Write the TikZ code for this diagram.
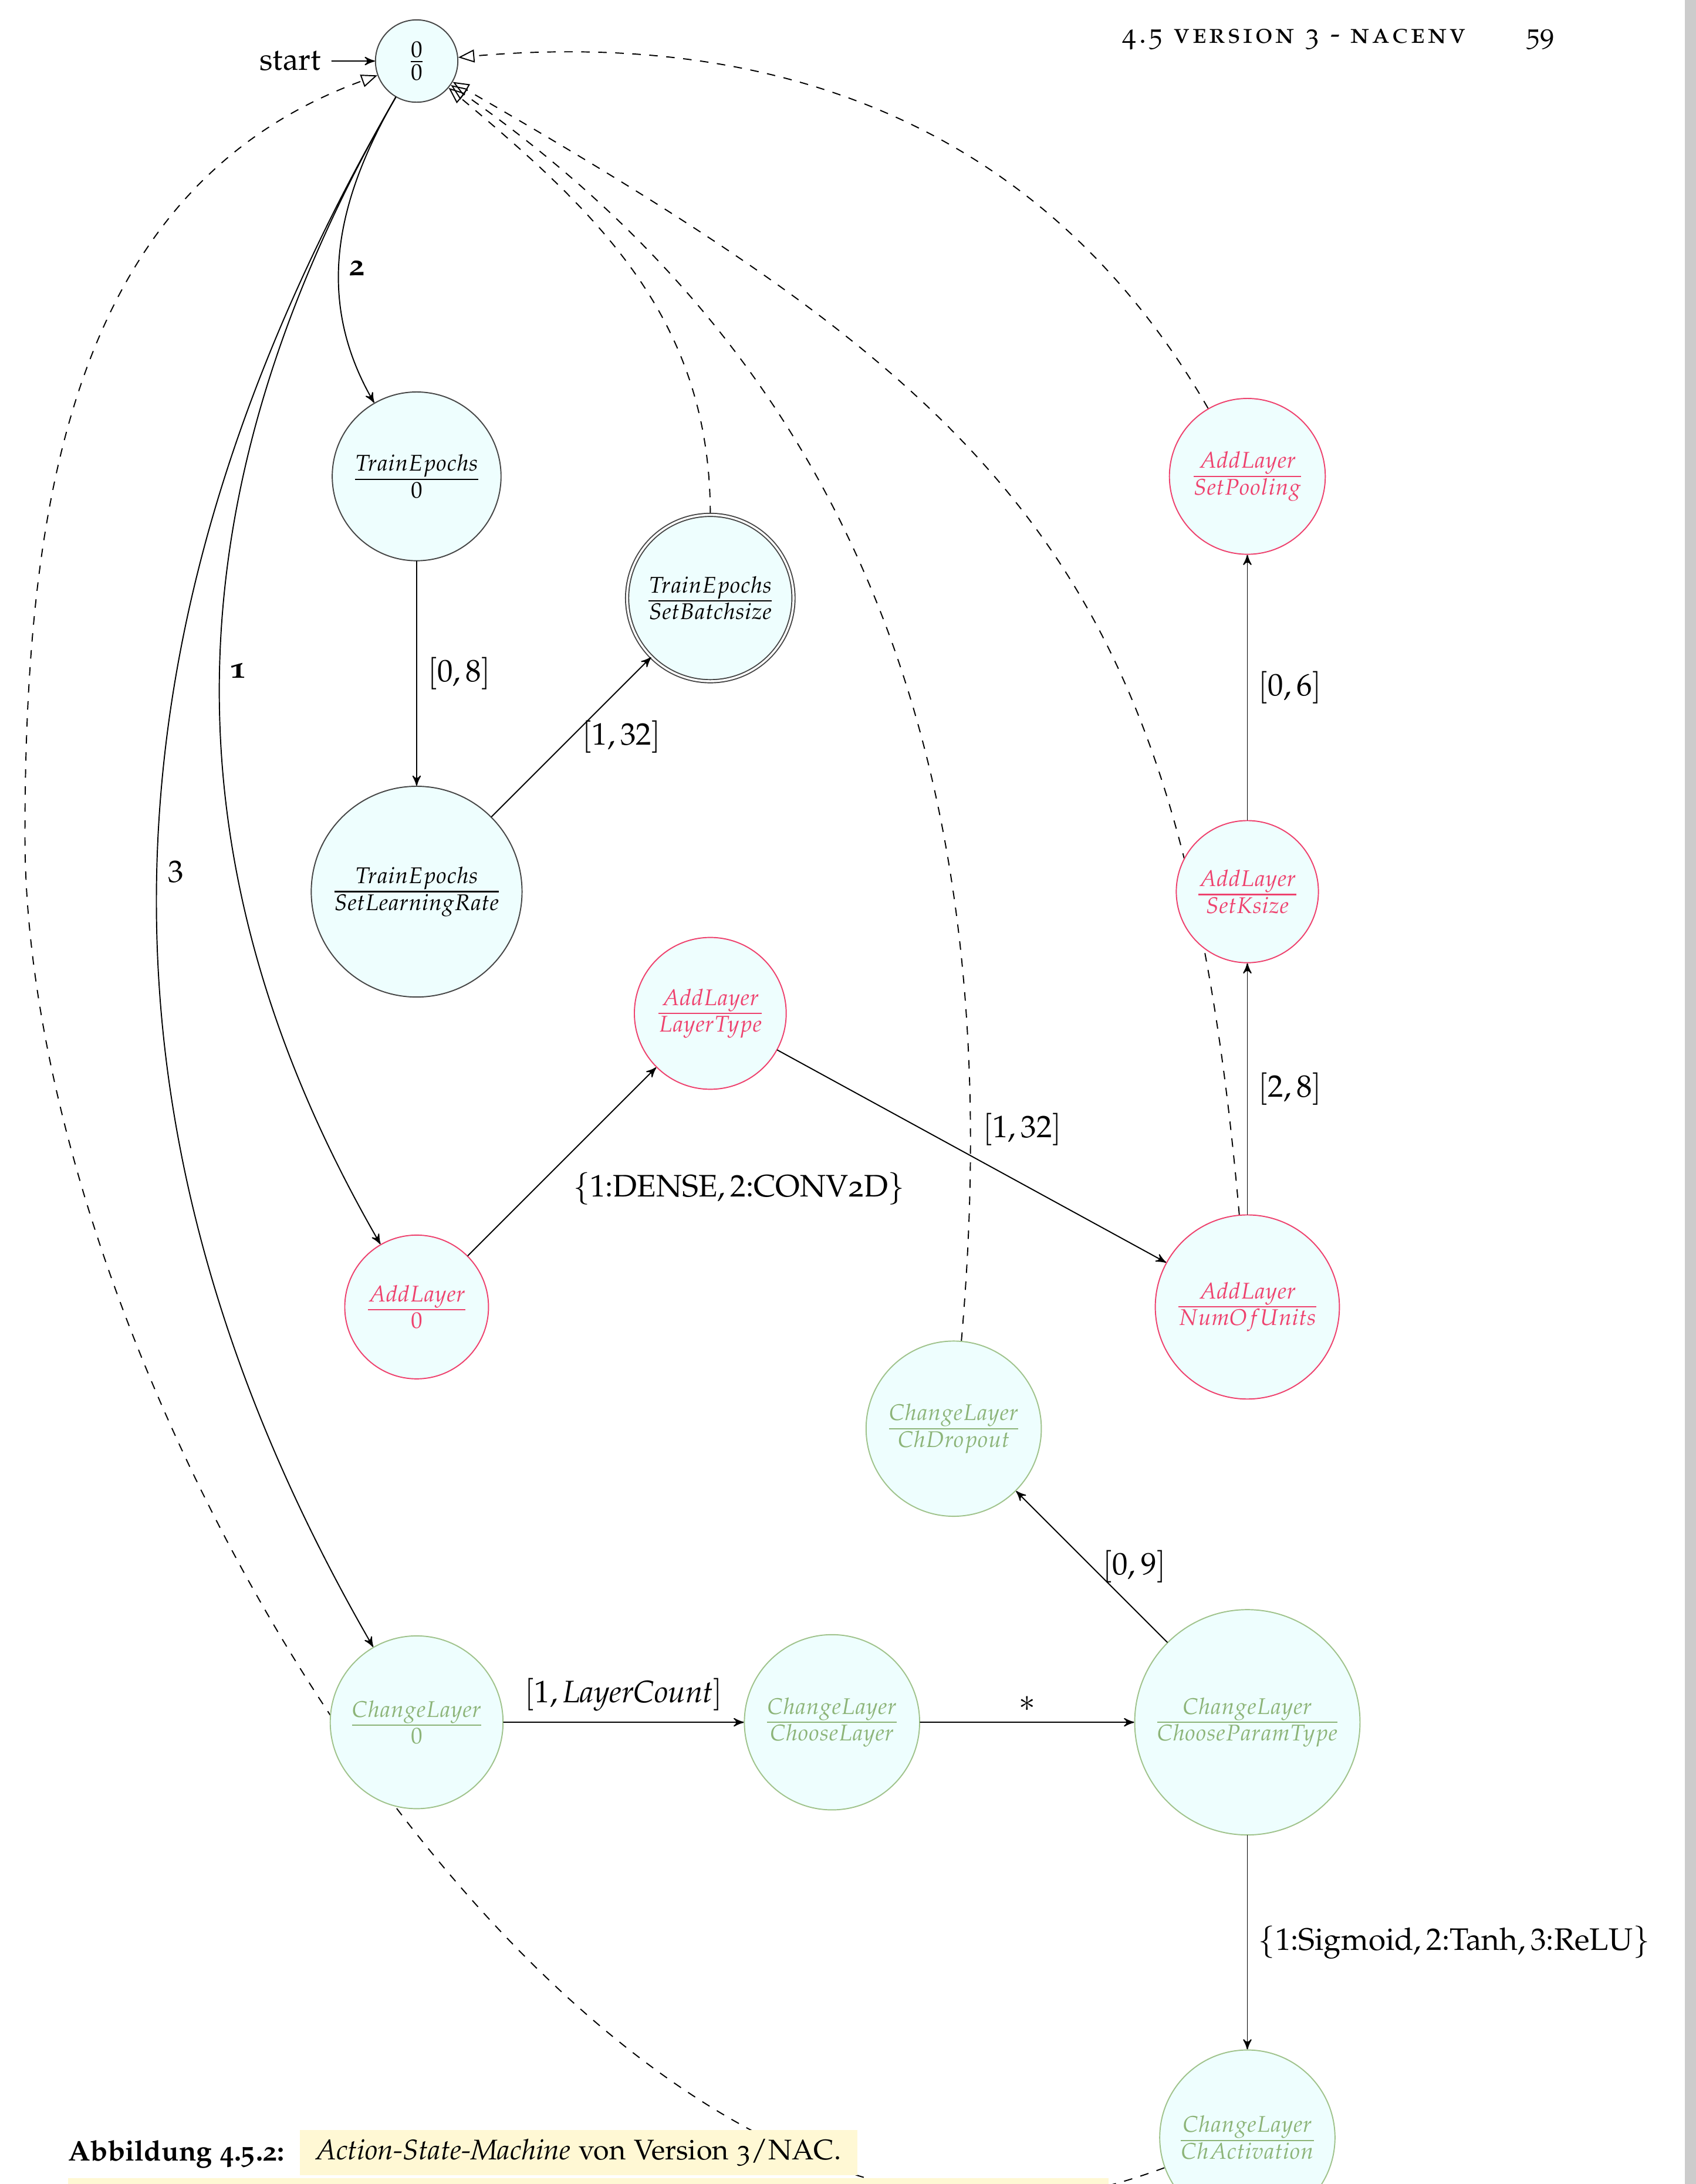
\documentclass[tikz,border=0pt]{standalone}
\usepackage[T1]{fontenc}
\usepackage[osf]{mathpazo}
\usepackage{amsmath}
\usepackage{tikz}
\usetikzlibrary{arrows,arrows.meta,backgrounds}

\definecolor{nodefill}{RGB}{238,254,254}
\definecolor{nodeline}{RGB}{70,70,70}
\definecolor{addcol}{RGB}{238,66,110}
\definecolor{changecol}{RGB}{160,195,140}
\definecolor{changetext}{RGB}{140,180,120}
\definecolor{capyellow}{RGB}{255,248,212}
\definecolor{viewergray}{RGB}{204,204,204}

\makeatletter
\newcommand\spacedword[1]{\@tfor\sp@letter:=#1\do{\sp@letter\kern.095em}\unskip}
\makeatother
\newcommand\pagefont{\fontsize{10}{12}\selectfont}

\tikzset{>=stealth',
every picture/.append style={
    line join=round,
    line cap=round
  },
statenode/.style={circle, draw=nodeline, fill=nodefill, inner sep=0pt},
trainst/.style={statenode},
addst/.style={statenode, draw=addcol, text=addcol},
changest/.style={statenode, draw=changecol, text=changetext},
retedge/.style={dashed, -{Triangle[open,length=2mm,width=1.6mm]}}}

\begin{document}
\fontsize{10.95}{13.6}\selectfont
\begin{tikzpicture}
        \useasboundingbox (-5.159,0.756) rectangle (15.841,-26.29);
        % states
        \node [trainst, minimum size=1.02cm] (q0) at (0,0) {$\frac{0}{0}$};
        \node [trainst, minimum size=2.09cm] (te0) at (0,-5.143) {$\frac{TrainEpochs}{0}$};
        \node [trainst, minimum size=2.61cm] (telr) at (0,-10.286) {$\frac{TrainEpochs}{SetLearningRate}$};
        \node [trainst, double, double distance=0.7pt, minimum size=2.06cm] (tebs) at (3.636,-6.65) {$\frac{TrainEpochs}{SetBatchsize}$};
        \node [addst, minimum size=1.78cm] (al0) at (0,-15.429) {$\frac{AddLayer}{0}$};
        \node [addst, minimum size=1.88cm] (altype) at (3.636,-11.793) {$\frac{AddLayer}{LayerType}$};
        \node [addst, minimum size=2.28cm] (alunits) at (10.286,-15.429) {$\frac{AddLayer}{NumOfUnits}$};
        \node [addst, minimum size=1.76cm] (alksize) at (10.286,-10.286) {$\frac{AddLayer}{SetKsize}$};
        \node [addst, minimum size=1.93cm] (alpool) at (10.286,-5.143) {$\frac{AddLayer}{SetPooling}$};
        \node [changest, minimum size=2.14cm] (cl0) at (0,-20.572) {$\frac{ChangeLayer}{0}$};
        \node [changest, minimum size=2.17cm] (clchoose) at (5.143,-20.572) {$\frac{ChangeLayer}{ChooseLayer}$};
        \node [changest, minimum size=2.79cm] (clparam) at (10.286,-20.572) {$\frac{ChangeLayer}{ChooseParamType}$};
        \node [changest, minimum size=2.17cm] (cldrop) at (6.65,-16.936) {$\frac{ChangeLayer}{ChDropout}$};
        \node [changest, minimum size=2.17cm] (clact) at (10.286,-25.715) {$\frac{ChangeLayer}{ChActivation}$};
        \node [anchor=east] (start) at (-1.05,0) {start};
        \coordinate (lowturn) at (7.19,-26.46);
        \coordinate (farleft) at (-4.85,-9.6);
        % transitions
        \draw [->] (start) -- (q0);
        \draw [->] (q0) to [out=240,in=120] node [right,pos=0.56] {\textbf{2}} (te0);
        \draw [->] (q0) to [out=240,in=120] node [right] {\textbf{1}} (al0);
        \draw [->] (q0) to [out=240,in=120] node [right] {$3$} (cl0);
        \draw [->] (te0) -- node [right] {$[0,8]$} (telr);
        \draw [->] (telr) -- node [right] {$[1,32]$} (tebs);
        \draw [->] (al0) -- node [below right] {$\{1\text{:DENSE}, 2\text{:CONV2D}\}$} (altype);
        \draw [->] (altype) -- node [above right] {$[1,32]$} (alunits);
        \draw [->] (alunits) -- node [right] {$[2,8]$} (alksize);
        \draw [->] (alksize) -- node [right] {$[0,6]$} (alpool);
        \draw [->] (cl0) -- node [above] {$[1,\mathit{LayerCount}]$} (clchoose);
        \draw [->] (clchoose) -- node [above] {$*$} (clparam);
        \draw [->] (clparam) -- node [right] {$[0,9]$} (cldrop);
        \draw [->] (clparam) -- node [right] {$\{1\text{:Sigmoid}, 2\text{:Tanh}, 3\text{:ReLU}\}$} (clact);
        % back to the start state
        \begin{scope}[on background layer]
        \draw [retedge] (alpool) to [out=120,in=5] (q0);
        \draw [retedge] (tebs) to [out=90,in=-40] (q0);
        \draw [retedge] (cldrop) to [out=85,in=-35] (q0);
        \draw [retedge] (alunits) to [out=95,in=-30,looseness=1.2] (q0);
        \draw [retedge] (clact) to [out=200,in=0] (lowturn) .. controls +(-6.0,0) and +(0,-6.5) .. (farleft) to [out=90,in=200] (q0);
        \end{scope}
        % page head, caption, viewer edge
        \node [anchor=base west, inner sep=0pt, font=\pagefont] (head) at (8.73,0.225) {\textsc{\spacedword{4.5}\ \spacedword{version}\ \spacedword{3}\ \spacedword{-}\ \spacedword{nacenv}}};
        \node [anchor=base west, inner sep=0pt, font=\pagefont] (pageno) at (13.73,0.225) {59};
        \node [anchor=base west, inner sep=0pt, font=\pagefont] (figlabel) at (-4.316,-26.0) {\textbf{Abbildung 4.5.2:}};
        \node [fill=capyellow, anchor=west, inner sep=0pt, minimum width=6.9cm, minimum height=0.56cm, font=\pagefont] (figtext) at (-1.453,-25.9) {\textit{Action-State-Machine} von Version 3/NAC.};
        \fill [capyellow] (-4.316,-26.22) rectangle (8.567,-26.4);
        \fill [viewergray] (15.70,0.756) rectangle (15.841,-26.29);
    \end{tikzpicture}
\end{document}
